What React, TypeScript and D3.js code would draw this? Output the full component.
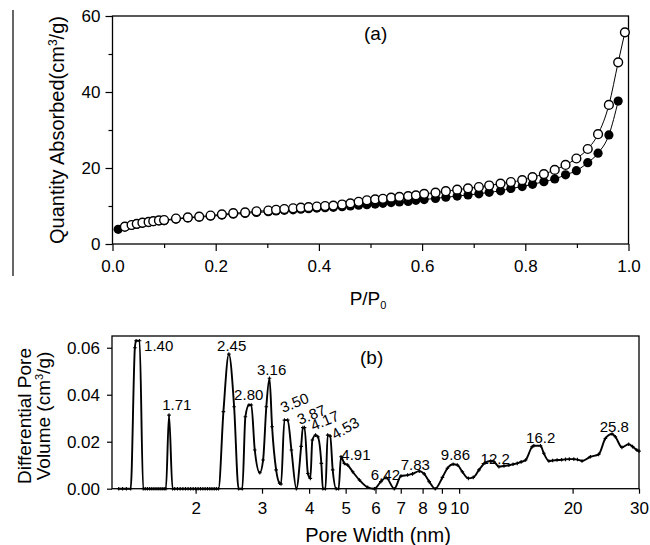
import React, { useEffect, useRef } from 'react';
import * as d3 from 'd3';

// (a) N2 isotherm, filled = adsorption, open = desorption
const adsP = [0.011, 0.024, 0.037, 0.047, 0.058, 0.070, 0.079, 0.090, 0.100, 0.123, 0.146, 0.168, 0.190, 0.212, 0.234, 0.257, 0.279, 0.302, 0.317, 0.333, 0.350, 0.365, 0.380, 0.396, 0.412, 0.428, 0.445, 0.461, 0.477, 0.493, 0.509, 0.524, 0.540, 0.556, 0.573, 0.588, 0.604, 0.626, 0.646, 0.668, 0.689, 0.710, 0.730, 0.752, 0.772, 0.794, 0.814, 0.836, 0.857, 0.878, 0.899, 0.921, 0.941, 0.962, 0.980];
const adsQ = [3.85, 4.45, 4.9, 5.15, 5.45, 5.65, 5.85, 6.05, 6.15, 6.55, 6.85, 7.05, 7.3, 7.6, 7.85, 8.05, 8.3, 8.5, 8.7, 8.85, 9.0, 9.15, 9.3, 9.45, 9.55, 9.65, 9.8, 10.0, 10.2, 10.35, 10.5, 10.7, 10.9, 11.05, 11.2, 11.5, 11.7, 12.0, 12.3, 12.6, 12.9, 13.2, 13.6, 14.0, 14.6, 15.1, 15.7, 16.4, 17.1, 18.2, 19.3, 21.4, 23.9, 28.7, 37.6];
const desP = [0.024, 0.037, 0.047, 0.058, 0.070, 0.079, 0.090, 0.100, 0.123, 0.146, 0.168, 0.190, 0.212, 0.234, 0.257, 0.279, 0.302, 0.317, 0.333, 0.350, 0.365, 0.380, 0.396, 0.412, 0.428, 0.445, 0.461, 0.477, 0.493, 0.509, 0.524, 0.540, 0.556, 0.573, 0.588, 0.604, 0.626, 0.646, 0.668, 0.689, 0.710, 0.730, 0.752, 0.772, 0.794, 0.814, 0.836, 0.857, 0.878, 0.899, 0.921, 0.941, 0.962, 0.980, 0.993];
const desQ = [4.55, 5.0, 5.3, 5.6, 5.8, 6.0, 6.2, 6.3, 6.7, 7.0, 7.2, 7.5, 7.8, 8.1, 8.3, 8.6, 8.8, 9.0, 9.2, 9.4, 9.55, 9.7, 9.85, 10.0, 10.1, 10.4, 10.7, 11.1, 11.5, 11.75, 11.9, 12.2, 12.4, 12.6, 12.8, 13.2, 13.5, 13.9, 14.3, 14.65, 15.0, 15.4, 15.9, 16.3, 16.8, 17.6, 18.4, 19.5, 20.8, 22.5, 25.0, 28.9, 36.6, 47.8, 55.7];

const xTicksA = [0, 0.2, 0.4, 0.6, 0.8, 1.0];
const xMinorA = [0.1, 0.3, 0.5, 0.7, 0.9];
const yTicksA = [0, 20, 40, 60];
const yMinorA = [10, 30, 50];

// (b) pore size distribution (nm, cm3/g)
const poreW = [1.25, 1.28, 1.31, 1.345, 1.38, 1.39, 1.42, 1.452,
  1.47, 1.49, 1.51, 1.53, 1.55, 1.57, 1.59, 1.61, 1.63, 1.65, 1.668, 1.70, 1.737,
  1.76, 1.79, 1.82, 1.85, 1.88, 1.91, 1.94, 1.97, 2.0, 2.03, 2.06, 2.09, 2.12, 2.15, 2.18, 2.21, 2.24, 2.27, 2.30,
  2.37, 2.45, 2.53, 2.60, 2.66, 2.71, 2.77, 2.81, 2.87, 2.96, 3.02, 3.08, 3.14, 3.19, 3.27, 3.34, 3.37,
  3.44, 3.51, 3.59, 3.70, 3.81, 3.85, 3.89, 3.97, 4.03, 4.08, 4.16, 4.22, 4.31, 4.35, 4.42, 4.48, 4.55,
  4.62, 4.72, 4.79, 4.86, 4.96, 5.06, 5.22, 5.44, 5.72, 5.96, 6.20, 6.40, 6.73, 7.01, 7.30, 7.52, 7.84,
  8.08, 8.33, 8.64, 9.03, 9.31, 9.64, 9.89, 10.2, 10.58, 10.9, 11.29, 11.71, 12.13, 12.37, 12.75, 13.15,
  13.55, 13.9, 14.26, 14.6, 15.01, 15.63, 15.78, 16.44, 16.77, 17.3, 17.7, 18.19, 18.7, 19.15, 19.6, 20.15,
  20.6, 21.18, 22.29, 23.45, 24.43, 25.44, 25.97, 27.03, 28.16, 28.85, 29.6, 30.0];
const poreV = [0, 0, 0, 0, 0.060, 0.063, 0.063, 0,
  0, 0, 0, 0, 0, 0, 0, 0, 0, 0, 0, 0.0313, 0,
  0, 0, 0, 0, 0, 0, 0, 0, 0, 0, 0, 0, 0, 0, 0, 0, 0, 0, 0,
  0.0328, 0.0573, 0.0349, 0, 0, 0.0306, 0.0356, 0.0356, 0.0165, 0.0068, 0.0122, 0.0349, 0.047, 0.0264, 0.008, 0.0023, 0.002,
  0.0292, 0.0292, 0.0165, 0, 0.018, 0.026, 0.026, 0.0065, 0.0044, 0.0207, 0.0228, 0.0221, 0.0108, 0, 0, 0.0228, 0.0224,
  0.008, 0, 0, 0.0136, 0.0108, 0.0101, 0.0072, 0.0037, 0.0006, 0, 0.003, 0.0047, 0, 0.0054, 0.0058, 0.0063, 0.0075,
  0.0063, 0.003, 0, 0.0048, 0.0087, 0.0104, 0.0101, 0.0072, 0.0044, 0.0048, 0.008, 0.011, 0.0118, 0.0115, 0.0094, 0.0097,
  0.0100, 0.0104, 0.0108, 0.0114, 0.0122, 0.0179, 0.0183, 0.0183, 0.0151, 0.0118, 0.0120, 0.0122, 0.0123, 0.0125, 0.0126, 0.0126,
  0.0124, 0.0118, 0.0136, 0.0146, 0.0214, 0.0233, 0.0221, 0.0176, 0.0189, 0.0179, 0.0165, 0.016];

const xTicksB = [2, 3, 4, 5, 6, 7, 8, 9, 10, 20, 30];
const yTicksB = [0, 0.02, 0.04, 0.06];

// peak annotations: text, left-baseline anchor in data units
const peakText = ['1.40', '1.71', '2.45', '2.80', '3.16', '3.50', '3.87', '4.17', '4.53', '4.91', '6.42', '7.83', '9.86', '12.2', '16.2', '25.8'];
const peakW = [1.46, 1.63, 2.28, 2.53, 2.91, 3.41, 3.78, 4.10, 4.69, 4.87, 5.83, 7.0, 8.94, 11.4, 15.05, 23.6];
const peakV = [0.0586, 0.0335, 0.0586, 0.0377, 0.0484, 0.0322, 0.0271, 0.0246, 0.0207, 0.0122, 0.0037, 0.008, 0.0122, 0.0105, 0.0194, 0.0241];
const tilt: Record<string, number> = { '3.50': -22, '3.87': -22, '4.17': -22, '4.53': -30 };

const FONT = '"Liberation Sans", Arial, Helvetica, sans-serif';

export default function App() {
  const svgRef = useRef<SVGSVGElement>(null);

  useEffect(() => {
    const svg = d3.select(svgRef.current);
    svg.selectAll('*').remove();
    svg.attr('font-family', FONT);

    // stray vertical rule on the far left
    svg.append('line')
      .attr('x1', 13).attr('x2', 13).attr('y1', 10).attr('y2', 276)
      .attr('stroke', '#000').attr('stroke-width', 1.2);

    const styleAxis = (g: any, size: number) => {
      g.select('.domain').remove();
      g.attr('font-family', FONT).attr('font-size', size);
      g.selectAll('line').attr('stroke', '#000').attr('stroke-width', 1.2);
      g.selectAll('text').attr('fill', '#000');
    };

    // ---------- panel (a)
    const xA = d3.scaleLinear().domain([0, 1]).range([112.5, 628.5]);
    const yA = d3.scaleLinear().domain([0, 60]).range([244, 16]);
    const gA = svg.append('g');

    gA.append('g').attr('transform', `translate(0,${yA(0)})`)
      .call(d3.axisBottom(xA).tickValues(xTicksA).tickSize(7).tickPadding(9).tickFormat(d3.format('.1f')))
      .call(g => styleAxis(g, 17));
    gA.append('g').attr('transform', `translate(0,${yA(0)})`)
      .call(d3.axisBottom(xA).tickValues(xMinorA).tickSize(4).tickFormat(() => ''))
      .call(g => styleAxis(g, 17));
    gA.append('g').attr('transform', `translate(${xA(0)},0)`)
      .call(d3.axisLeft(yA).tickValues(yTicksA).tickSize(7).tickPadding(5))
      .call(g => styleAxis(g, 17));
    gA.append('g').attr('transform', `translate(${xA(0)},0)`)
      .call(d3.axisLeft(yA).tickValues(yMinorA).tickSize(4).tickFormat(() => ''))
      .call(g => styleAxis(g, 17));

    gA.append('rect')
      .attr('x', xA(0)).attr('y', yA(60))
      .attr('width', xA(1) - xA(0)).attr('height', yA(0) - yA(60))
      .attr('fill', 'none').attr('stroke', '#000').attr('stroke-width', 1.3);

    const lineA = (px: number[], qy: number[]) =>
      d3.line<number>().x((_, i) => xA(px[i])).y(d => yA(d)).curve(d3.curveMonotoneX)(qy);

    gA.append('path').attr('d', lineA(adsP, adsQ) as string)
      .attr('fill', 'none').attr('stroke', '#000').attr('stroke-width', 1);
    gA.append('path').attr('d', lineA(desP, desQ) as string)
      .attr('fill', 'none').attr('stroke', '#000').attr('stroke-width', 1);

    gA.selectAll('.ads').data(adsQ).enter().append('circle')
      .attr('cx', (_, i) => xA(adsP[i])).attr('cy', d => yA(d)).attr('r', 4.6)
      .attr('fill', '#000');
    gA.selectAll('.des').data(desQ).enter().append('circle')
      .attr('cx', (_, i) => xA(desP[i])).attr('cy', d => yA(d)).attr('r', 4.4)
      .attr('fill', '#fff').attr('stroke', '#000').attr('stroke-width', 1.4);

    gA.append('text').attr('x', 364).attr('y', 40).attr('font-size', 19).text('(a)');

    const yLabA = gA.append('text')
      .attr('transform', `translate(64,130) rotate(-90)`)
      .attr('text-anchor', 'middle').attr('font-size', 20);
    yLabA.append('tspan').text('Quantity Absorbed(cm');
    yLabA.append('tspan').attr('dy', -7).attr('font-size', 12).text('3');
    yLabA.append('tspan').attr('dy', 7).text('/g)');

    const xLabA = gA.append('text').attr('x', 368).attr('y', 305)
      .attr('text-anchor', 'middle').attr('font-size', 19);
    xLabA.append('tspan').text('P/P');
    xLabA.append('tspan').attr('dy', 4).attr('font-size', 11).text('0');

    // ---------- panel (b)
    const xB = d3.scaleLog().domain([1.2, 30]).range([112, 639]);
    const yB = d3.scaleLinear().domain([0, 0.065]).range([488.7, 336]);
    const gB = svg.append('g');

    gB.append('g').attr('transform', `translate(0,${yB(0)})`)
      .call(d3.axisBottom(xB).tickValues(xTicksB).tickSize(5).tickPadding(8).tickFormat(d3.format('d')))
      .call(g => styleAxis(g, 17));
    gB.append('g').attr('transform', `translate(${xB(1.2)},0)`)
      .call(d3.axisLeft(yB).tickValues(yTicksB).tickSize(5).tickPadding(7).tickFormat(d3.format('.2f')))
      .call(g => styleAxis(g, 17));

    gB.append('rect')
      .attr('x', xB(1.2)).attr('y', yB(0.065))
      .attr('width', xB(30) - xB(1.2)).attr('height', yB(0) - yB(0.065))
      .attr('fill', 'none').attr('stroke', '#000').attr('stroke-width', 1.3);

    const lineB = d3.line<number>()
      .x((_, i) => xB(poreW[i])).y(d => yB(d))
      .curve(d3.curveMonotoneX);
    gB.append('path').attr('d', lineB(poreV) as string)
      .attr('fill', 'none').attr('stroke', '#000').attr('stroke-width', 1.9)
      .attr('stroke-linejoin', 'round');

    // small cross markers at every data point
    gB.selectAll('.mk').data(poreV).enter().append('path')
      .attr('transform', (d, i) => `translate(${xB(poreW[i])},${yB(d)})`)
      .attr('d', 'M-1.8,0H1.8M0,-1.8V1.8')
      .attr('stroke', '#000').attr('stroke-width', 1.1);

    gB.selectAll('.pk').data(peakText).enter().append('text')
      .attr('transform', (d, i) => `translate(${xB(peakW[i])},${yB(peakV[i])}) rotate(${tilt[d] || 0})`)
      .attr('font-size', 15).attr('fill', '#000')
      .text(d => d);

    gB.append('text').attr('x', 360).attr('y', 364).attr('font-size', 19).text('(b)');

    const yLabB1 = gB.append('text')
      .attr('transform', `translate(31,416) rotate(-90)`)
      .attr('text-anchor', 'middle').attr('font-size', 19);
    yLabB1.text('Differential Pore');
    const yLabB2 = gB.append('text')
      .attr('transform', `translate(50,416) rotate(-90)`)
      .attr('text-anchor', 'middle').attr('font-size', 19);
    yLabB2.append('tspan').text('Volume (cm');
    yLabB2.append('tspan').attr('dy', -7).attr('font-size', 11).text('3');
    yLabB2.append('tspan').attr('dy', 7).text('/g)');

    gB.append('text').attr('x', 378).attr('y', 542)
      .attr('text-anchor', 'middle').attr('font-size', 20).text('Pore Width (nm)');
  }, []);

  return (
    <svg
      ref={svgRef}
      width={650}
      height={545}
      style={{ position: 'absolute', left: 0, top: 0, background: '#fff' }}
    />
  );
}
